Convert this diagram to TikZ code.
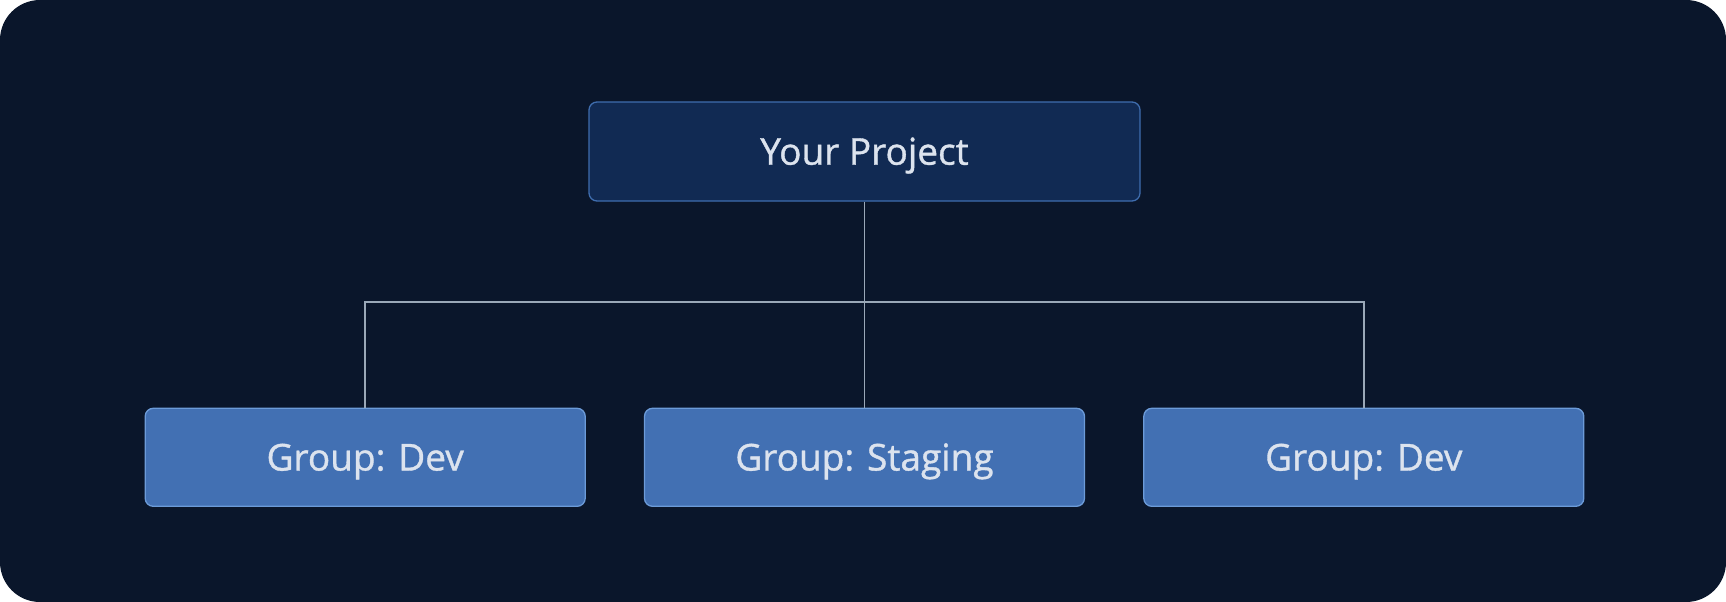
\documentclass[tikz,border=0pt]{standalone}
\usepackage{fontspec}
\setmainfont{Open Sans}
\newfontfamily\boxfont{Open Sans}[FakeBold=1]
\usetikzlibrary{positioning}
\definecolor{pagebg}{HTML}{0A162B}
\definecolor{projfill}{HTML}{112A53}
\definecolor{projdraw}{HTML}{3F6DAE}
\definecolor{grpfill}{HTML}{4270B3}
\definecolor{grpdraw}{HTML}{6C9BD8}
\definecolor{linkcol}{HTML}{9AA8B8}
\definecolor{labelcol}{HTML}{DCE3EE}

\begin{document}
\begin{tikzpicture}[
		x=1pt, y=1pt,
		box/.style={draw, line width=1.3pt, rectangle, rounded corners=8pt, align=center, text=labelcol, font=\boxfont\fontsize{37}{40}\selectfont, inner sep=0pt, text height=26.4pt, text depth=0pt},
		projbox/.style={box, fill=projfill, draw=projdraw, minimum width=551pt, minimum height=99pt},
		grpbox/.style={box, fill=grpfill, draw=grpdraw, minimum width=440pt, minimum height=98pt},
		link/.style={draw=linkcol, line width=1.5pt},
	]
		\fill[white] (0,0) rectangle (1726,-602);
		\fill[pagebg, rounded corners=40pt] (0,0) rectangle (1726,-602);
		\useasboundingbox (0,0) rectangle (1726,-602);

		\node[projbox] (proj) at (864.5,-151.5) {Your Project};
		\node[grpbox, below=206pt of proj] (stage) {Group: Staging};
		\node[grpbox, left=58pt of stage] (dev1) {Group: Dev};
		\node[grpbox, right=58pt of stage] (dev2) {Group: Dev};

		\draw[link] (proj.south) -- ++(0,-100.5) coordinate (bus);
		\draw[link] (dev1.north) |- (bus) -| (dev2.north);
		\draw[link] (bus) -- (stage.north);
	\end{tikzpicture}
\end{document}
